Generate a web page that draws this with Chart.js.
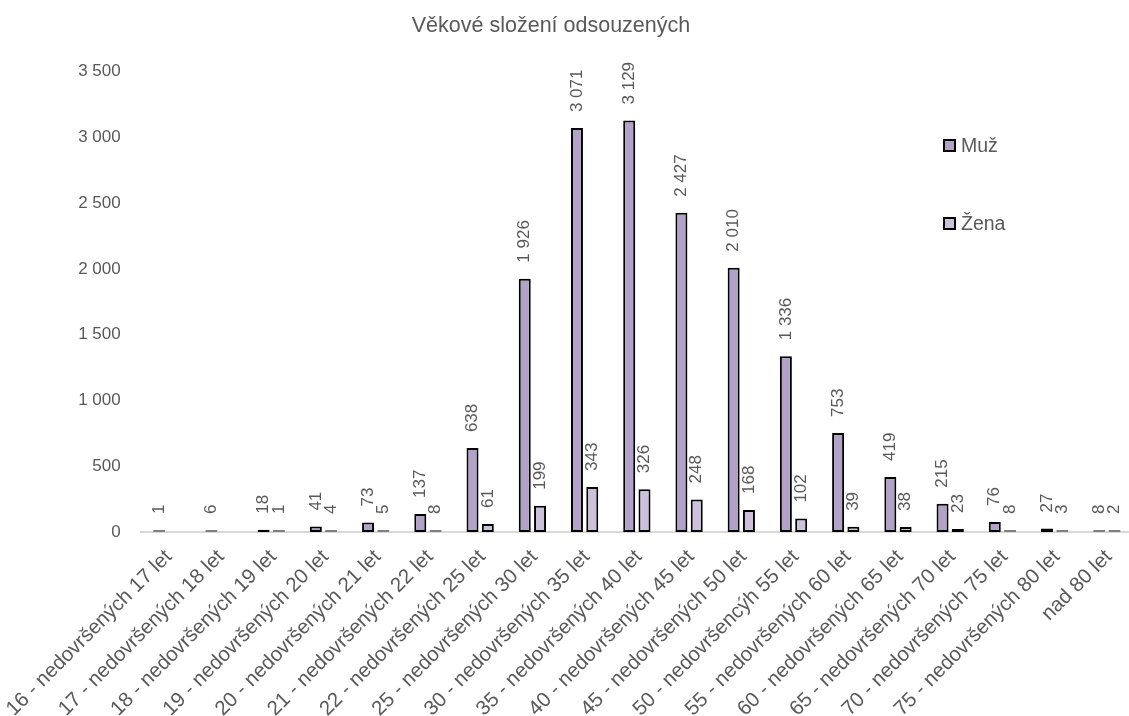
<!DOCTYPE html>
<html>
<head>
<meta charset="utf-8">
<script src="https://cdn.jsdelivr.net/npm/chart.js@4.4.1/dist/chart.umd.min.js"></script>
<style>
  html, body { margin: 0; padding: 0; overflow: hidden; background: #fff; }
  #wrap { position: relative; width: 1134px; height: 716px; }
</style>
</head>
<body>
<div id="wrap"><canvas id="c"></canvas></div>
<script>
const chartTitle = 'Věkové složení odsouzených';
const categories = [
  '16 - nedovršených 17 let', '17 - nedovršených 18 let', '18 - nedovršených 19 let',
  '19 - nedovršených 20 let', '20 - nedovršených 21 let', '21 - nedovršených 22 let',
  '22 - nedovršených 25 let', '25 - nedovršených 30 let', '30 - nedovršených 35 let',
  '35 - nedovršených 40 let', '40 - nedovršených 45 let', '45 - nedovršených 50 let',
  '50 - nedovršencýh 55 let', '55 - nedovršených 60 let', '60 - nedovršených 65 let',
  '65 - nedovršených 70 let', '70 - nedovršených 75 let', '75 - nedovršených 80 let',
  'nad 80 let'
];
const seriesNames = ['Muž', 'Žena'];
const maleValues   = [1, 6, 18, 41, 73, 137, 638, 1926, 3071, 3129, 2427, 2010, 1336, 753, 419, 215, 76, 27, 8];
const femaleValues = [null, null, 1, 4, 5, 8, 61, 199, 343, 326, 248, 168, 102, 39, 38, 23, 8, 3, 2];
const yTickValues = [0, 500, 1000, 1500, 2000, 2500, 3000, 3500];

const FONT = "'Liberation Sans', Arial, sans-serif";
const TEXT = '#595959';
const COLORS = ['#b3a2c7', '#ccc1da'];

function fmt(n) {
  return String(n).replace(/\B(?=(\d{3})+(?!\d))/g, ' ');
}

const titlePlugin = {
  id: 'customTitle',
  afterDraw(chart) {
    const ctx = chart.ctx;
    ctx.save();
    ctx.fillStyle = TEXT;
    ctx.font = "21.5px " + FONT;
    ctx.textAlign = 'center';
    ctx.textBaseline = 'middle';
    ctx.fillText(chartTitle, 551, 26);
    ctx.restore();
  }
};

const dataLabelPlugin = {
  id: 'dataLabels',
  afterDatasetsDraw(chart) {
    const ctx = chart.ctx;
    ctx.save();
    ctx.fillStyle = TEXT;
    ctx.font = "17px " + FONT;
    ctx.textAlign = 'left';
    ctx.textBaseline = 'middle';
    chart.data.datasets.forEach((ds, di) => {
      const meta = chart.getDatasetMeta(di);
      meta.data.forEach((el, i) => {
        const v = ds.data[i];
        if (v === null || v === undefined) return;
        ctx.save();
        ctx.translate(el.x, el.y - 16);
        ctx.rotate(-Math.PI / 2);
        ctx.fillText(fmt(v), 0, 0);
        ctx.restore();
      });
    });
    ctx.restore();
  }
};

const legendPlugin = {
  id: 'customLegend',
  afterDraw(chart) {
    const ctx = chart.ctx;
    ctx.save();
    chart.data.datasets.forEach((ds, i) => {
      const x = 943, y = 139 + i * 78, s = 13;
      ctx.fillStyle = '#000';
      ctx.fillRect(x, y, s, s);
      ctx.fillStyle = ds.backgroundColor;
      ctx.fillRect(x + 2, y + 2, s - 4, s - 4);
      ctx.fillStyle = TEXT;
      ctx.font = "19.5px " + FONT;
      ctx.textAlign = 'left';
      ctx.textBaseline = 'middle';
      ctx.fillText(ds.label, x + s + 5, y + s / 2 + 1);
    });
    ctx.restore();
  }
};

const mkDataset = (label, data, color) => ({
  label,
  data,
  backgroundColor: color,
  borderColor: (c) => (c.raw !== null && c.raw < 10 ? '#7f7f7f' : '#000000'),
  borderWidth: 2,
  borderSkipped: false,
  minBarLength: 2,
  categoryPercentage: 0.586,
  barPercentage: 0.784
});

new Chart(document.getElementById('c'), {
  type: 'bar',
  data: {
    labels: categories,
    datasets: [
      mkDataset(seriesNames[0], maleValues, COLORS[0]),
      mkDataset(seriesNames[1], femaleValues, COLORS[1])
    ]
  },
  options: {
    responsive: true,
    maintainAspectRatio: false,
    animation: false,
    layout: { padding: { left: 0, right: 1, top: 71.7, bottom: 0 } },
    plugins: {
      legend: { display: false },
      tooltip: { enabled: false },
      title: { display: false }
    },
    scales: {
      x: {
        grid: { display: false, drawTicks: false },
        border: { display: true, color: '#d9d9d9', width: 2 },
        ticks: {
          autoSkip: false,
          minRotation: 45,
          maxRotation: 45,
          color: TEXT,
          padding: 13,
          labelOffset: 2,
          font: { family: FONT, size: 20.5 }
        },
        afterFit(scale) {
          scale.height = 184;
          scale.paddingLeft = 0;
          scale.paddingRight = 0;
        }
      },
      y: {
        min: 0,
        max: 3500,
        grid: { display: false, drawTicks: false },
        border: { display: false },
        afterBuildTicks(scale) {
          scale.ticks = yTickValues.map(v => ({ value: v }));
        },
        ticks: {
          color: TEXT,
          padding: 20,
          font: { family: FONT, size: 17 },
          callback: (v) => fmt(v)
        },
        afterFit(scale) {
          scale.width = 140.7;
          scale.paddingTop = 0;
        }
      }
    }
  },
  plugins: [titlePlugin, dataLabelPlugin, legendPlugin]
});
</script>
</body>
</html>
